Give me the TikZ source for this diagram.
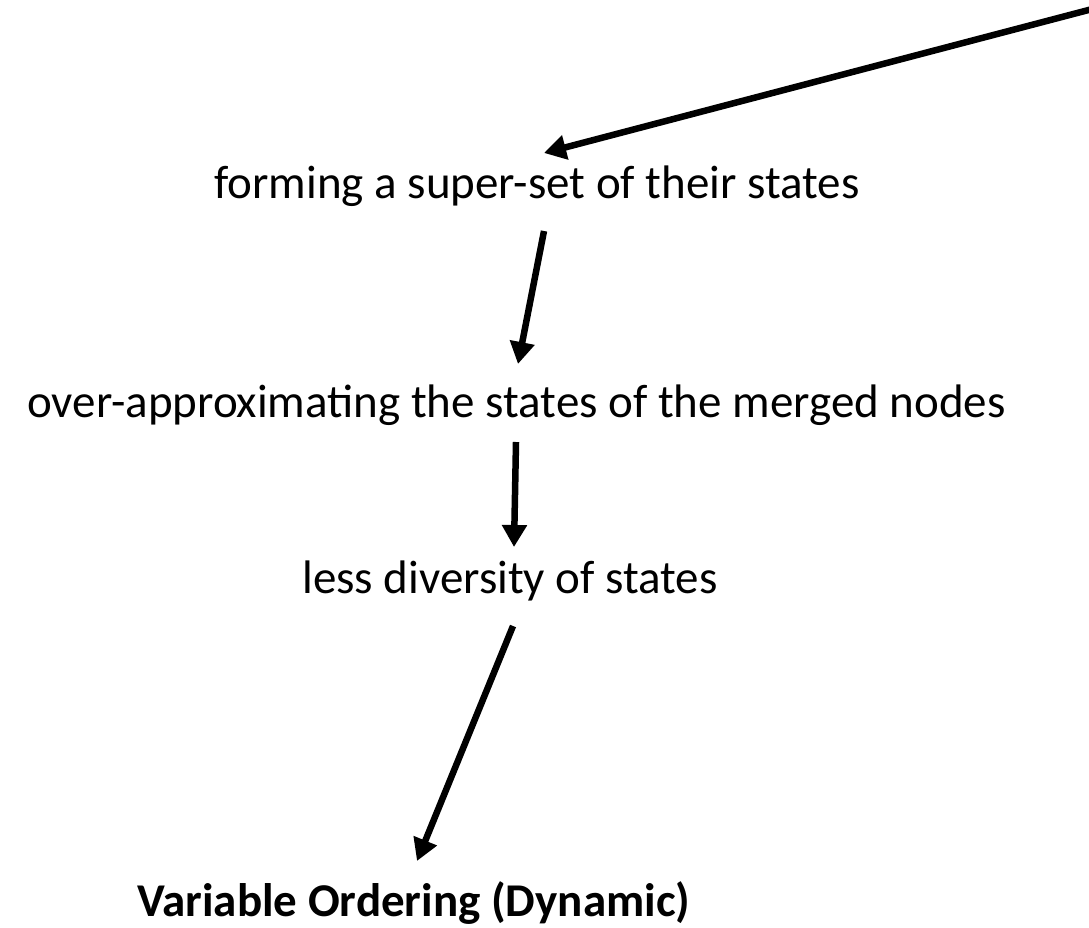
\documentclass[tikz,border=0pt]{standalone}
\usepackage{fontspec}
\setmainfont{Carlito}
\usetikzlibrary{arrows.meta}
\begin{document}
\begin{tikzpicture}[x=1pt,y=-1pt,
  label/.style={inner sep=0pt,anchor=base,font=\fontsize{47}{56}\selectfont},
  flow/.style={line width=6.5pt,-{Triangle[length=22pt,width=24pt]}}]
\useasboundingbox (0,0) rectangle (1089,927);
% text lines (placed at their baselines)
\node[label] (t1) at (537,198) {forming a super-set of their states};
\node[label] (t2) at (516.5,417) {over-approximating the states of the merged nodes};
\node[label] (t3) at (510,593) {less diversity of states};
\node[label,anchor=base west,font=\fontsize{47}{56}\selectfont\bfseries] (t4) at (137,916) {Variable Ordering (Dynamic)};
% arrow end points
\coordinate (s1) at (1100,7);
\coordinate (e1) at (544,153);
\coordinate (s2) at (544,231);
\coordinate (e2) at (518,364);
\coordinate (s3) at (516,442);
\coordinate (e3) at (514,547);
\coordinate (s4) at (513,626);
\coordinate (e4) at (417,861);
% arrows
\draw[flow] (s1) -- (e1);
\draw[flow] (s2) -- (e2);
\draw[flow] (s3) -- (e3);
\draw[flow] (s4) -- (e4);
\end{tikzpicture}
\end{document}
